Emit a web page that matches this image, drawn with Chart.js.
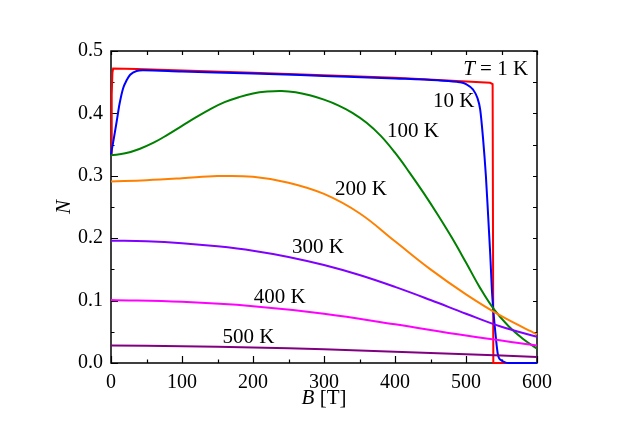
<!DOCTYPE html>
<html>
<head>
<meta charset="utf-8">
<script src="https://cdn.jsdelivr.net/npm/chart.js@4/dist/chart.umd.min.js"></script>
<style>
  html, body { margin: 0; padding: 0; background: #fff; }
  #wrap { width: 623px; height: 436px; }
</style>
</head>
<body>
<div id="wrap"><canvas id="nChart" width="623" height="436"></canvas></div>
<script>
// field B [T] and N for each temperature
const b1 = [0, 1, 2, 3, 36, 200, 400, 534, 537.5, 538.5, 548, 600];
const n1 = [0.334, 0.43, 0.465, 0.472, 0.471, 0.465, 0.457, 0.449, 0.447, 0.0, 0.0, 0.0];

const b10 = [0, 4, 8, 12, 17, 22, 27, 36, 45, 100, 200, 300, 400, 460, 491, 500, 510, 516, 520, 524, 528, 531, 534, 537, 541, 545, 550, 555, 560, 600];
const n10 = [0.334, 0.36, 0.387, 0.415, 0.44, 0.453, 0.462, 0.468, 0.469, 0.467, 0.464, 0.46, 0.456, 0.453, 0.45, 0.447, 0.438, 0.425, 0.406, 0.36, 0.30, 0.24, 0.177, 0.107, 0.053, 0.013, 0.004, 0.001, 0, 0];

const b100 = [0, 20, 40, 60, 80, 100, 120, 140, 160, 180, 200, 220, 240, 260, 280, 300, 320, 340, 360, 380, 400, 420, 440, 460, 480, 500, 520, 540, 560, 580, 600];
const n100 = [0.333, 0.336, 0.343, 0.353, 0.366, 0.380, 0.394, 0.407, 0.418, 0.426, 0.432, 0.435, 0.436, 0.434, 0.429, 0.422, 0.413, 0.401, 0.385, 0.364, 0.337, 0.306, 0.273, 0.238, 0.201, 0.161, 0.120, 0.085, 0.059, 0.039, 0.023];

const b200 = [0, 50, 100, 150, 200, 250, 300, 350, 400, 450, 500, 550, 600];
const n200 = [0.291, 0.293, 0.296, 0.2995, 0.2985, 0.289, 0.271, 0.240, 0.195, 0.150, 0.110, 0.075, 0.046];

const b300 = [0, 50, 100, 150, 200, 250, 300, 350, 400, 450, 500, 550, 600];
const n300 = [0.196, 0.195, 0.192, 0.187, 0.180, 0.170, 0.157, 0.141, 0.122, 0.101, 0.079, 0.058, 0.042];

const b400 = [0, 100, 200, 300, 400, 500, 600];
const n400 = [0.101, 0.098, 0.091, 0.079, 0.062, 0.044, 0.028];

const b500 = [0, 100, 200, 300, 400, 500, 600];
const n500 = [0.028, 0.027, 0.025, 0.022, 0.018, 0.014, 0.0096];

// curve labels: [text, B, N] (left edge / baseline)
const curveLabels = [
    ['10 K', 453.5, 0.411],
    ['100 K', 388.7, 0.3615],
    ['200 K', 315.5, 0.269],
    ['300 K', 255, 0.176],
    ['400 K', 201, 0.096],
    ['500 K', 157, 0.032]
];

const serif = 'Liberation Serif';

function pts(xs, ys) {
    return xs.map((x, i) => ({ x: x, y: ys[i] }));
}

function series(xs, ys, color, order, mode) {
    return {
        data: pts(xs, ys),
        borderColor: color,
        borderWidth: 2,
        pointRadius: 0,
        showLine: true,
        fill: false,
        clip: false,
        order: order,
        tension: mode === 'sharp' ? 0 : 0.4,
        cubicInterpolationMode: mode === 'mono' ? 'monotone' : 'default'
    };
}

// frame, inward ticks, axis titles and curve labels
const decor = {
    id: 'decor',
    beforeDatasetsDraw(chart) {
        const ctx = chart.ctx;
        const a = chart.chartArea;
        const xs = chart.scales.x, ys = chart.scales.y;
        ctx.save();
        ctx.strokeStyle = '#000';
        ctx.lineWidth = 1.5;
        ctx.strokeRect(a.left, a.top, a.right - a.left, a.bottom - a.top);
        ctx.lineWidth = 1.2;
        ctx.beginPath();
        for (let v = 0; v <= 600; v += 50) {
            const px = Math.round(xs.getPixelForValue(v)) + 0.5;
            const len = v % 100 === 0 ? 7 : 3.5;
            ctx.moveTo(px, a.bottom); ctx.lineTo(px, a.bottom - len);
            ctx.moveTo(px, a.top); ctx.lineTo(px, a.top + 4);
        }
        for (let k = 0; k <= 10; k++) {
            const v = k * 0.05;
            const py = Math.round(ys.getPixelForValue(v)) + 0.5;
            const len = k % 2 === 0 ? 7 : 3.5;
            ctx.moveTo(a.left, py); ctx.lineTo(a.left + len, py);
            ctx.moveTo(a.right, py); ctx.lineTo(a.right - 4, py);
        }
        ctx.stroke();
        ctx.restore();
    },
    afterDatasetsDraw(chart) {
        const ctx = chart.ctx;
        const a = chart.chartArea;
        const xs = chart.scales.x, ys = chart.scales.y;
        ctx.save();
        ctx.fillStyle = '#000';
        ctx.textBaseline = 'alphabetic';
        ctx.textAlign = 'left';
        ctx.font = '21px "' + serif + '"';
        curveLabels.forEach(l => {
            ctx.fillText(l[0], xs.getPixelForValue(l[1]), ys.getPixelForValue(l[2]));
        });
        // T = 1 K
        let x0 = xs.getPixelForValue(496), y0 = ys.getPixelForValue(0.461);
        ctx.font = 'italic 21px "' + serif + '"';
        ctx.fillText('T', x0, y0);
        x0 += ctx.measureText('T').width;
        ctx.font = '21px "' + serif + '"';
        ctx.fillText(' = 1 K', x0, y0);

        // x title: B [T]
        ctx.font = 'italic 21px "' + serif + '"';
        const wB = ctx.measureText('B').width;
        ctx.font = '21px "' + serif + '"';
        const wR = ctx.measureText(' [T]').width;
        let tx = (a.left + a.right) / 2 - (wB + wR) / 2;
        ctx.font = 'italic 21px "' + serif + '"';
        ctx.fillText('B', tx, 404);
        ctx.font = '21px "' + serif + '"';
        ctx.fillText(' [T]', tx + wB, 404);

        // y title: N, rotated
        ctx.translate(70, (a.top + a.bottom) / 2);
        ctx.rotate(-Math.PI / 2);
        ctx.textAlign = 'center';
        ctx.font = 'italic 21px "' + serif + '"';
        ctx.fillText('N', 0, 0);
        ctx.restore();
    }
};

function createChart() {
    const ctx = document.getElementById('nChart').getContext('2d');
    new Chart(ctx, {
        type: 'scatter',
        data: {
            datasets: [
                series(b1, n1, '#ff0000', 7, 'sharp'),
                series(b10, n10, '#0000ff', 6, 'mono'),
                series(b100, n100, '#008000', 5, 'smooth'),
                series(b200, n200, '#ff8000', 4, 'smooth'),
                series(b300, n300, '#8000ff', 3, 'smooth'),
                series(b400, n400, '#ff00ff', 2, 'smooth'),
                series(b500, n500, '#800080', 1, 'smooth')
            ]
        },
        options: {
            responsive: false,
            animation: false,
            events: [],
            layout: { padding: { top: 51, right: 86, left: 0, bottom: 0 } },
            plugins: { legend: { display: false }, tooltip: { enabled: false } },
            scales: {
                x: {
                    type: 'linear',
                    min: 0, max: 600,
                    grid: { display: false, drawTicks: false },
                    border: { display: false },
                    ticks: {
                        stepSize: 100,
                        padding: 8,
                        color: '#000',
                        font: { family: serif, size: 20 }
                    },
                    afterFit(s) { s.height = 73; }
                },
                y: {
                    min: 0, max: 0.5,
                    grid: { display: false, drawTicks: false },
                    border: { display: false },
                    ticks: {
                        stepSize: 0.1,
                        padding: 8,
                        color: '#000',
                        font: { family: serif, size: 20 },
                        callback: v => v.toFixed(1)
                    },
                    afterFit(s) { s.width = 111; }
                }
            }
        },
        plugins: [decor]
    });
}

window.onload = createChart;
</script>
</body>
</html>
